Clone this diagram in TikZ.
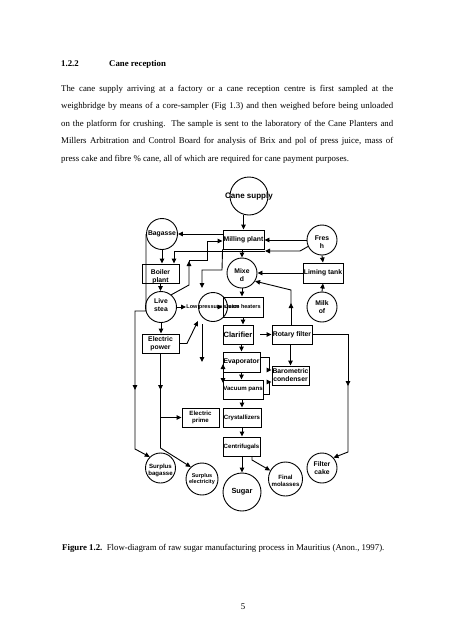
\documentclass[tikz,border=0pt]{standalone}
\usepackage{fontspec}
\setmainfont{Liberation Serif}
\newfontfamily\dsans{Liberation Sans}
\usetikzlibrary{arrows.meta}
\begin{document}
\begin{tikzpicture}[x=1pt,y=-1pt,
  ln/.style={line width=0.9pt},
  arr/.style={ln,-{Triangle[length=5pt,width=4.5pt]}},
  dbl/.style={ln,{Triangle[length=5pt,width=4.5pt]}-{Triangle[length=5pt,width=4.5pt]}},
  circ/.style={circle,draw,ln,inner sep=0pt},
  bx/.style={rectangle,draw,ln,inner sep=0pt},
  lab/.style={font=\dsans\bfseries\fontsize{6.8}{8}\selectfont,align=center,inner sep=0pt},
  labs/.style={font=\dsans\bfseries\fontsize{6.1}{7}\selectfont,align=center,inner sep=0pt},
  labt/.style={font=\dsans\bfseries\fontsize{5.5}{6.5}\selectfont,align=center,inner sep=0pt},
  body/.style={font=\fontsize{8.8}{10}\selectfont,inner sep=0pt,anchor=west},
]
\useasboundingbox[fill=white] (0,0) rectangle (452,640);

% ---------- text ----------
\node[body,font=\bfseries\fontsize{8.8}{10}\selectfont] (h1) at (61,64) {1.2.2};
\node[body,font=\bfseries\fontsize{8.8}{10}\selectfont] (h2) at (109,64) {Cane reception};
\node[body] (p1) at (61,89) {\makebox[332pt][s]{The cane supply arriving at a factory or a cane reception centre is first sampled at the}};
\node[body] (p2) at (61,106.5) {\makebox[332pt][s]{weighbridge by means of a core-sampler (Fig 1.3) and then weighed before being unloaded}};
\node[body] (p3) at (61,124) {\makebox[332pt][s]{on the platform for crushing.\ \ The sample is sent to the laboratory of the Cane Planters and}};
\node[body] (p4) at (61,141.5) {\makebox[332pt][s]{Millers Arbitration and Control Board for analysis of Brix and pol of press juice, mass of}};
\node[body] (p5) at (61,159) {press cake and fibre \% cane, all of which are required for cane payment purposes.};
\node[body] (cap) at (62,548) {\textbf{Figure 1.2.}\ \ Flow-diagram of raw sugar manufacturing process in Mauritius (Anon., 1997).};
\node[body,anchor=center] (pg) at (243,607) {5};

% ---------- circles ----------
\node[circ,minimum size=38pt,label={[lab,font=\dsans\bfseries\fontsize{8}{9}\selectfont]center:Cane supply}] (cs) at (249,196) {};
\node[circ,minimum size=31pt,label={[lab]center:Bagasse}] (bag) at (162,234) {};
\node[circ,minimum size=30pt,label={[lab,yshift=-2pt]center:{Mixe\\d}}] (mix) at (242,273) {};
\node[circ,minimum size=30pt,label={[lab,yshift=-2pt]center:{Fres\\h}}] (fresh) at (322,240) {};
\node[circ,minimum size=30pt,label={[lab]center:{Milk\\of}}] (milk) at (322,307) {};
\node[circ,minimum size=31pt,label={[lab,yshift=2pt]center:{Live\\stea}}] (live) at (161,307) {};
\node[circ,minimum size=29pt,label={[labt]center:Low pressure steam}] (lps) at (213,307) {};
\node[circ,minimum size=38pt,label={[lab,font=\dsans\bfseries\fontsize{7.4}{8}\selectfont]center:Sugar}] (sug) at (242,492) {};
\node[circ,minimum size=34pt,label={[labs,yshift=-1.5pt]center:{Final\\molasses}}] (fm) at (285.5,479) {};
\node[circ,minimum size=30pt,label={[lab]center:{Filter\\cake}}] (fc) at (322,468) {};
\node[circ,minimum size=30pt,label={[labs,yshift=-2pt]center:{Surplus\\bagasse}}] (sb) at (160.5,468) {};
\node[circ,minimum size=32pt,label={[labt]center:{Surplus\\electricity}}] (se) at (202,479) {};

% ---------- boxes ----------
\node[bx,minimum width=41pt,minimum height=19pt,label={[lab]center:Milling plant}] (mill) at (243.5,239.5) {};
\node[bx,minimum width=37pt,minimum height=19pt,label={[lab,yshift=-3.5pt]center:{Boiler\\plant}}] (boil) at (160.5,273.5) {};
\node[bx,minimum width=40pt,minimum height=20pt,label={[lab]center:Liming tank}] (lime) at (323,273) {};
\node[bx,minimum width=40pt,minimum height=20pt,label={[labt]center:Juice heaters}] (jh) at (243,307) {};
\node[bx,minimum width=30pt,minimum height=19pt,label={[lab,font=\dsans\bfseries\fontsize{7.6}{8}\selectfont]center:Clarifier}] (clar) at (238,334.5) {};
\node[bx,minimum width=40pt,minimum height=19pt,label={[lab]center:Rotary filter}] (rot) at (292,334.5) {};
\node[bx,minimum width=37pt,minimum height=20pt,label={[lab]center:Evaporator}] (evap) at (241.5,362) {};
\node[bx,minimum width=40pt,minimum height=19pt,label={[labs]center:Vacuum pans}] (vac) at (243,389.5) {};
\node[bx,minimum width=37pt,minimum height=19pt,label={[lab]center:{Barometric\\condenser}}] (baro) at (290.5,375.5) {};
\node[bx,minimum width=37pt,minimum height=19pt,label={[lab]center:{Electric\\power}}] (epow) at (160.5,343.5) {};
\node[bx,minimum width=37pt,minimum height=19pt,label={[labs]center:{Electric\\prime}}] (eprime) at (200.5,417.5) {};
\node[bx,minimum width=38pt,minimum height=19pt,label={[labs]center:Crystallizers}] (cryst) at (242,417.5) {};
\node[bx,minimum width=37pt,minimum height=19pt,label={[labs]center:Centrifugals}] (cent) at (241.5,446.5) {};

% ---------- connectors ----------
\draw[arr] (mill.north |- cs.south) -- (mill.north);
\draw[arr] (mill.west |- bag.east) -- (bag.east);
\draw[arr] (bag.south) -- (bag.south |- boil.north);
% live steam to mills
\draw[arr] (live.50) -- (189,285) -- (189,261);
\draw[arr] (189,262) -- (189,260) -- (207,260) -- (207,241) -- (mill.west |- 0,241);
% fresh water
\draw[arr] (fresh.west) -- (mill.east |- fresh.west);
\draw[arr] (fresh.205) -- (300,251) -- (265,251);
\draw[arr] (265,251) -- (174,251) -- (174,251 |- boil.north);
% mill exhaust to LP steam
\draw[arr] (mill.south west) -- (222,270) -- (202,270) -- (202,288);
\draw[arr] (mix.north |- mill.south) -- (mix.north);
\draw[arr] (lime.west) -- (mix.east);
\draw[arr] (fresh.south) -- (lime.north);
\draw[arr] (milk.north) -- (lime.south);
\draw[arr] (291,325) -- (291,303);
\draw[arr] (291,305) -- (291,290) -- (mix.-32);
\draw[arr] (mix.south) -- (mix.south |- jh.north);
\draw[arr] (jh.south) -- (jh.south |- clar.north);
\draw[arr] ([xshift=7pt]clar.east) -- (rot.west);
\draw[arr] (baro.north |- rot.south) -- (baro.north);
\draw[arr] (rot.east) -- (348,334.5) -- (348,386);
\draw[arr] (348,384) -- (348,452) -- (fc.42);
\draw[arr] (evap.north |- clar.south) -- (evap.north);
\draw[arr] (evap.south) -- (evap.south |- vac.north);
\draw[dbl] (223,364) -- (223,383);
\draw[arr] (evap.east |- 0,357) -- (269,357) -- (269,370) -- (baro.west |- 0,370);
\draw[arr] (vac.east |- 0,394) -- (269,394) -- (269,382) -- (baro.west |- 0,382);
\draw[arr] (vac.south -| cryst.north) -- (cryst.north);
\draw[arr] (cryst.south) -- (cryst.south |- cent.north);
\draw[arr] (sug.north |- cent.south) -- (sug.north);
\draw[arr] (252,456) -- (252,460) -- (fm.151);
% steam / power side
\draw[arr] (boil.south) -- (boil.south |- live.north);
\draw[arr] (live.south) -- (live.south |- epow.north);
\draw[arr] (live.east) -- (186,307);
\draw[arr] (217,307) -- (jh.west);
\draw[arr] (epow.east) -- (187,343.5) -- (198,321);
\draw[arr] (202,324) -- (202,362);
% surplus bagasse
\draw[arr] (bag.west) -- (146,311) -- (135,311) -- (135,390);
\draw[arr] (135,388) -- (135,449) -- (sb.134);
% surplus electricity
\draw[arr] (epow.south) -- (160.5,390);
\draw[arr] (160.5,388) -- (160.5,448) -- (se.133);
\draw[arr] (160.5,417.5) -- (eprime.west);
\end{tikzpicture}
\end{document}
